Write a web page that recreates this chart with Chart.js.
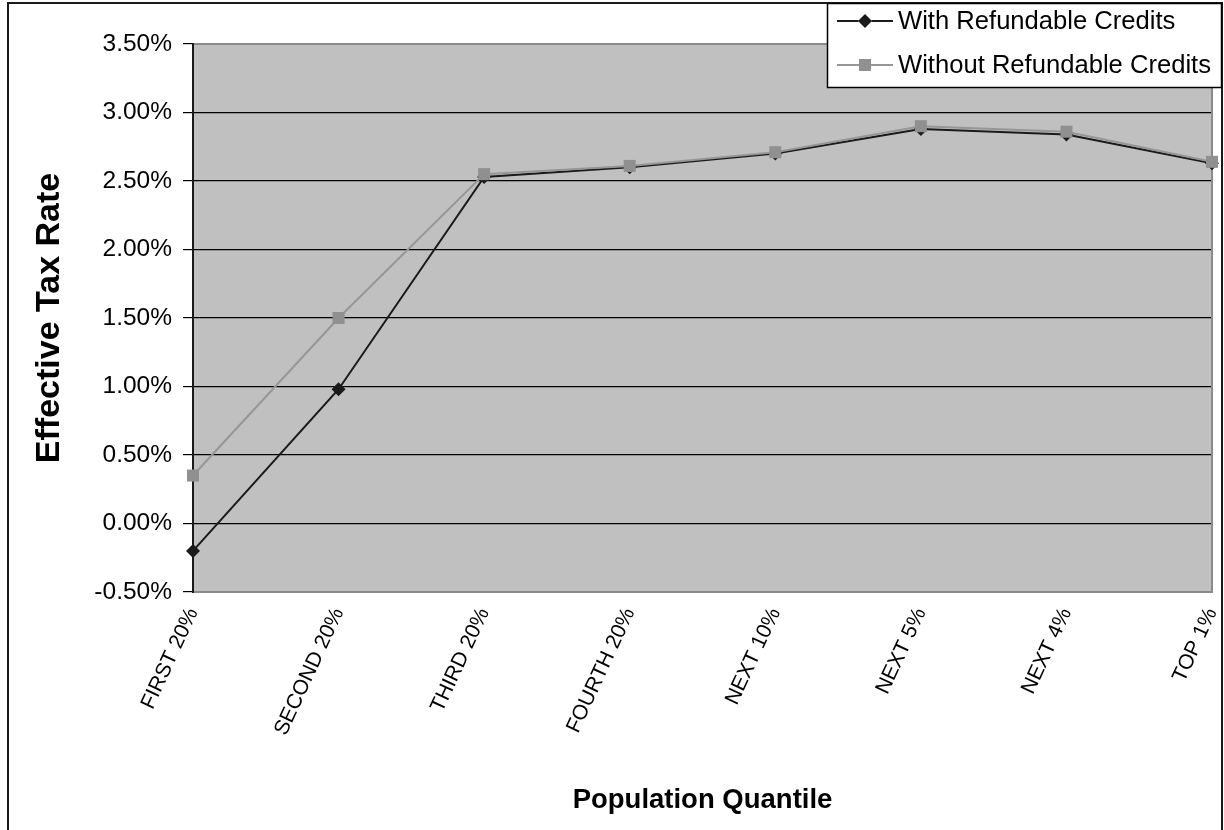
<!DOCTYPE html>
<html>
<head>
<meta charset="utf-8">
<script src="https://cdn.jsdelivr.net/npm/chart.js@4/dist/chart.umd.min.js"></script>
<style>
  html, body { margin: 0; padding: 0; background: #ffffff; }
  #wrap { width: 1224px; height: 830px; }
</style>
</head>
<body>
<div id="wrap"><canvas id="c" width="1224" height="830"></canvas></div>
<script>
// ---- data ----
const categories = ['FIRST 20%', 'SECOND 20%', 'THIRD 20%', 'FOURTH 20%', 'NEXT 10%', 'NEXT 5%', 'NEXT 4%', 'TOP 1%'];
const withRefundable = [-0.20, 0.98, 2.53, 2.60, 2.70, 2.88, 2.84, 2.63];
const withoutRefundable = [0.35, 1.50, 2.55, 2.61, 2.71, 2.90, 2.86, 2.64];
const seriesNames = ['With Refundable Credits', 'Without Refundable Credits'];
const yTitle = 'Effective Tax Rate';
const xTitle = 'Population Quantile';
const yMin = -0.5, yMax = 3.5, yStep = 0.5;

const FONT = "'Liberation Sans', Arial, sans-serif";

const framePlugin = {
  id: 'framePlugin',
  beforeDraw(chart) {
    const { ctx, chartArea: a } = chart;
    ctx.save();
    ctx.fillStyle = '#ffffff';
    ctx.fillRect(0, 0, chart.width, chart.height);
    ctx.fillStyle = '#c0c0c0';
    ctx.fillRect(a.left, a.top, a.right - a.left, a.bottom - a.top);
    ctx.restore();
  },
  beforeDatasetsDraw(chart) {
    const { ctx, chartArea: a } = chart;
    ctx.save();
    ctx.strokeStyle = '#8a8a8a';
    ctx.lineWidth = 2;
    ctx.beginPath();
    ctx.moveTo(a.left, a.top);
    ctx.lineTo(a.right, a.top);
    ctx.lineTo(a.right, a.bottom);
    ctx.lineTo(a.left, a.bottom);
    ctx.stroke();
    ctx.strokeStyle = '#1a1a1a';
    ctx.beginPath();
    ctx.moveTo(a.left, a.top - 1);
    ctx.lineTo(a.left, a.bottom + 1);
    ctx.stroke();
    ctx.restore();
  },
  afterDraw(chart) {
    const { ctx } = chart;
    ctx.save();
    ctx.strokeStyle = '#1a1a1a';
    ctx.lineWidth = 2;
    ctx.beginPath();
    ctx.moveTo(8, 832);
    ctx.lineTo(8, 3);
    ctx.lineTo(1222, 3);
    ctx.lineTo(1222, 832);
    ctx.stroke();
    const lx = 827, ly = 3, lw = 394, lh = 84;
    ctx.fillStyle = '#ffffff';
    ctx.fillRect(lx, ly, lw, lh);
    ctx.strokeStyle = '#000000';
    ctx.lineWidth = 1.5;
    ctx.strokeRect(lx + 0.5, ly + 0.5, lw, lh);
    const ds = chart.data.datasets;
    const rows = [21, 65];
    ds.forEach((d, i) => {
      const y = rows[i];
      ctx.strokeStyle = d.borderColor;
      ctx.lineWidth = d.borderWidth;
      ctx.beginPath();
      ctx.moveTo(837, y);
      ctx.lineTo(893, y);
      ctx.stroke();
      Chart.helpers.drawPoint(ctx, {
        pointStyle: d.pointStyle,
        radius: d.pointRadius,
        borderWidth: 0,
        rotation: 0
      }, 865, y);
      ctx.fillStyle = d.pointBackgroundColor;
      ctx.fill();
      ctx.fillStyle = '#000000';
      ctx.font = '25.6px ' + FONT;
      ctx.textAlign = 'left';
      ctx.textBaseline = 'middle';
      ctx.fillText(d.label, 898, y + 1);
    });
    ctx.restore();
  }
};

const chart = new Chart(document.getElementById('c'), {
  type: 'line',
  data: {
    labels: categories,
    datasets: [
      {
        label: seriesNames[0],
        data: withRefundable,
        borderColor: '#1a1a1a',
        backgroundColor: '#1a1a1a',
        pointBackgroundColor: '#1a1a1a',
        pointBorderColor: '#1a1a1a',
        borderWidth: 2,
        pointStyle: 'rectRot',
        pointRadius: 7,
        pointBorderWidth: 0,
        tension: 0,
        clip: false,
        order: 1
      },
      {
        label: seriesNames[1],
        data: withoutRefundable,
        borderColor: '#969696',
        backgroundColor: '#969696',
        pointBackgroundColor: '#909090',
        pointBorderColor: '#909090',
        borderWidth: 2,
        pointStyle: 'rect',
        pointRadius: 8.5,
        pointBorderWidth: 0,
        tension: 0,
        clip: false,
        order: 0
      }
    ]
  },
  options: {
    responsive: false,
    animation: false,
    devicePixelRatio: 1,
    layout: { padding: { left: 0, top: 44, right: 12, bottom: 0 } },
    plugins: {
      legend: { display: false },
      tooltip: { enabled: false },
      title: { display: false }
    },
    scales: {
      x: {
        type: 'category',
        offset: false,
        grid: { display: false, drawTicks: false },
        border: { display: false },
        ticks: {
          autoSkip: false,
          maxRotation: 65,
          minRotation: 65,
          padding: 12,
          color: '#000000',
          font: { family: FONT, size: 21 }
        },
        title: {
          display: true,
          text: xTitle,
          color: '#000000',
          font: { family: FONT, size: 27.5, weight: 'bold' },
          padding: { top: 0, bottom: 13 }
        },
        afterFit(scale) {
          scale.height = 238;
          scale.paddingLeft = 0;
          scale.paddingRight = 0;
        }
      },
      y: {
        min: yMin,
        max: yMax,
        ticks: {
          stepSize: yStep,
          padding: 11,
          color: '#000000',
          font: { family: FONT, size: 24.5 },
          callback: (v) => v.toFixed(2) + '%'
        },
        grid: {
          color: (c) => (c.tick && (c.tick.value <= yMin + 1e-9 || c.tick.value >= yMax - 1e-9)) ? 'rgba(0,0,0,0)' : '#000000',
          tickColor: '#000000',
          lineWidth: 1.2,
          tickLength: 10
        },
        border: { display: false },
        title: {
          display: true,
          text: yTitle,
          color: '#000000',
          font: { family: FONT, size: 34, weight: 'bold' },
          padding: { top: 29, bottom: 0 }
        },
        afterFit(scale) { scale.width = 193; }
      }
    }
  },
  plugins: [framePlugin]
});
</script>
</body>
</html>
